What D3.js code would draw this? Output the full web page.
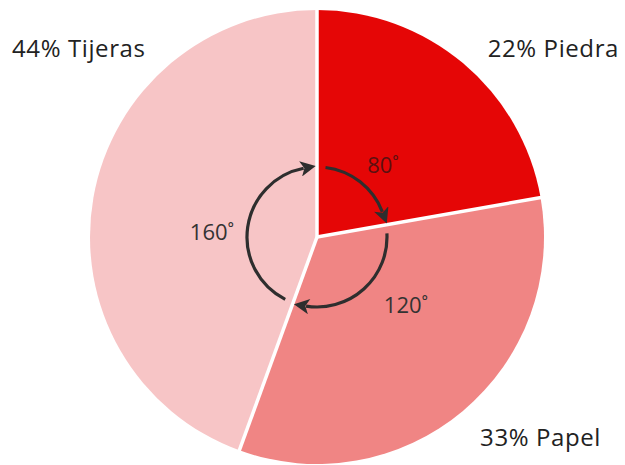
<!DOCTYPE html>
<html>
<head>
<meta charset="utf-8">
<script src="https://cdn.jsdelivr.net/npm/d3@7"></script>
<style>
  html, body { margin: 0; padding: 0; background: #fff; }
  svg { display: block; }
</style>
</head>
<body>
<svg id="chart" width="625" height="465"></svg>
<script>
// Piedra, papel o tijeras: share of each choice, as degrees of the circle
const categories = ["Piedra", "Papel", "Tijeras"];
const degrees = [80, 120, 160];
const colors = ["#e50606", "#f08584", "#f7c5c6"];

const W = 625, H = 465;
const cx = 317, cy = 237, R = 227, rArrow = 70;
const svg = d3.select("#chart");

const total = d3.sum(degrees);
const pie = d3.pie().sort(null).value(d => d).startAngle(0).endAngle(2 * Math.PI);
const arcs = pie(degrees);

const g = svg.append("g").attr("transform", `translate(${cx},${cy})`);

// slices
const arc = d3.arc().innerRadius(0).outerRadius(R);
g.selectAll("path.slice")
  .data(arcs)
  .join("path")
  .attr("class", "slice")
  .attr("d", arc)
  .attr("fill", (d, i) => colors[i]);

// white separators between slices
g.selectAll("line.sep")
  .data(arcs)
  .join("line")
  .attr("class", "sep")
  .attr("x1", 0).attr("y1", 0)
  .attr("x2", d => (R + 2) * Math.sin(d.startAngle))
  .attr("y2", d => -(R + 2) * Math.cos(d.startAngle))
  .attr("stroke", "#fff")
  .attr("stroke-width", 3.5);

// arrowhead marker
svg.append("defs").append("marker")
  .attr("id", "head")
  .attr("viewBox", "0 0 10 10")
  .attr("refX", 2).attr("refY", 5)
  .attr("markerWidth", 5.4).attr("markerHeight", 4.8)
  .attr("markerUnits", "strokeWidth")
  .attr("orient", "auto")
  .append("path")
  .attr("d", "M0,0 L10,5 L0,10 L2.5,5 Z")
  .attr("fill", "#2e2e2e");

// curved arrows inside the pie, one per slice, clockwise
const rad = a => a * Math.PI / 180;
const padStart = rad(7), padEnd = rad(11);
g.selectAll("path.arrow")
  .data(arcs)
  .join("path")
  .attr("class", "arrow")
  .attr("d", d => {
    const p = d3.path();
    const a0 = d.startAngle + padStart - Math.PI / 2;
    const a1 = d.endAngle - padEnd - Math.PI / 2;
    p.moveTo(rArrow * Math.cos(a0), rArrow * Math.sin(a0));
    p.arc(0, 0, rArrow, a0, a1, false);
    return p.toString();
  })
  .attr("fill", "none")
  .attr("stroke", "#2e2e2e")
  .attr("stroke-width", 3.2)
  .attr("marker-end", "url(#head)");

// degree labels
const degPos = [[66, -73], [89, 67], [-105, -6]];
const degColors = ["#5c1010", "#333", "#333"];
g.selectAll("text.deg")
  .data(arcs)
  .join("text")
  .attr("class", "deg")
  .attr("x", (d, i) => degPos[i][0])
  .attr("y", (d, i) => degPos[i][1])
  .attr("text-anchor", "middle")
  .attr("dominant-baseline", "central")
  .attr("font-family", "'Open Sans', sans-serif")
  .attr("font-size", 22)
  .attr("fill", (d, i) => degColors[i])
  .text(d => d.value + "˚");

// category labels with percentages
const labelPos = [[619, 57, "end"], [601, 446, "end"], [12, 57, "start"]];
svg.selectAll("text.cat")
  .data(arcs)
  .join("text")
  .attr("class", "cat")
  .attr("x", (d, i) => labelPos[i][0])
  .attr("y", (d, i) => labelPos[i][1])
  .attr("text-anchor", (d, i) => labelPos[i][2])
  .attr("font-family", "'Open Sans', sans-serif")
  .attr("font-size", 24)
  .attr("letter-spacing", 0.6)
  .attr("fill", "#222")
  .text((d, i) => Math.round(d.value / total * 100) + "% " + categories[i]);
</script>
</body>
</html>
